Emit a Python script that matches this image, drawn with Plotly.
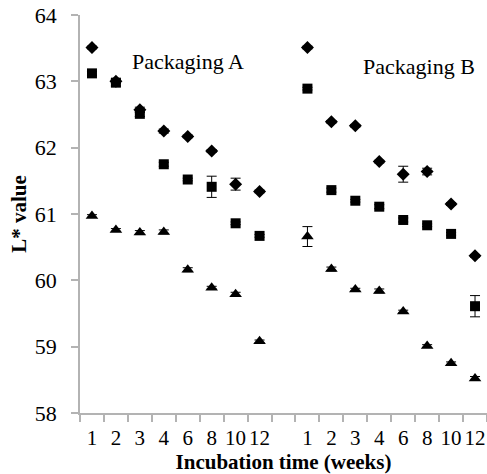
import plotly.graph_objects as go

weeks = [1, 2, 3, 4, 6, 8, 10, 12]
groups = ["Packaging A", "Packaging B"]

# Series values (L* value) for packaging A and B
diamond_A = [63.51, 63.00, 62.57, 62.25, 62.17, 61.95, 61.45, 61.34]
diamond_A_err = [0.02, 0.03, 0.04, 0.03, 0.02, 0.02, 0.09, 0.02]
square_A = [63.12, 62.98, 62.51, 61.75, 61.52, 61.41, 60.86, 60.67]
square_A_err = [0.03, 0.05, 0.04, 0.03, 0.02, 0.16, 0.02, 0.02]
triangle_A = [60.97, 60.76, 60.72, 60.73, 60.16, 59.89, 59.79, 59.08]
triangle_A_err = [0.02, 0.02, 0.03, 0.03, 0.03, 0.02, 0.03, 0.02]

diamond_B = [63.51, 62.39, 62.33, 61.79, 61.60, 61.64, 61.15, 60.37]
diamond_B_err = [0.02, 0.02, 0.02, 0.02, 0.12, 0.05, 0.02, 0.02]
square_B = [62.89, 61.36, 61.20, 61.11, 60.91, 60.83, 60.70, 59.61]
square_B_err = [0.02, 0.03, 0.02, 0.03, 0.03, 0.02, 0.02, 0.16]
triangle_B = [60.66, 60.17, 59.86, 59.84, 59.53, 59.01, 58.75, 58.52]
triangle_B_err = [0.15, 0.03, 0.02, 0.03, 0.02, 0.02, 0.02, 0.03]

# positions: group A categories, one blank category, group B categories
pos_A = list(range(len(weeks)))
pos_B = [p + len(weeks) + 1 for p in pos_A]
n_cat = 2 * len(weeks) + 1

FONT = "Times New Roman, Liberation Serif, DejaVu Serif, serif"
fig = go.Figure()

def add(xs, ys, errs, symbol, size):
    fig.add_trace(go.Scatter(
        x=xs, y=ys, mode="markers",
        marker=dict(symbol=symbol, size=size, color="black"),
        error_y=dict(type="data", array=errs, visible=True, color="black",
                     thickness=1, width=5),
        showlegend=False, cliponaxis=False))

add(pos_A, triangle_A, triangle_A_err, "triangle-up", 11)
add(pos_A, square_A, square_A_err, "square", 10)
add(pos_A, diamond_A, diamond_A_err, "diamond", 10)
add(pos_B, triangle_B, triangle_B_err, "triangle-up", 11)
add(pos_B, square_B, square_B_err, "square", 10)
add(pos_B, diamond_B, diamond_B_err, "diamond", 10)

fig.add_annotation(x=4.03, y=63.3, text=groups[0], showarrow=False,
                   font=dict(family=FONT, size=22, color="black"))
fig.add_annotation(x=13.65, y=63.23, text=groups[1], showarrow=False,
                   font=dict(family=FONT, size=22, color="black"))

axis_col = "#b3b3b3"
fig.update_layout(
    width=487, height=474,
    margin=dict(l=80, r=0, t=15, b=61),
    paper_bgcolor="white", plot_bgcolor="white",
    font=dict(family=FONT, color="black"),
    xaxis=dict(
        range=[-0.5, n_cat - 0.5],
        tickmode="array",
        tickvals=pos_A + pos_B,
        ticktext=[str(w) for w in weeks] * 2,
        ticks="", showgrid=False, zeroline=False,
        showline=True, linecolor=axis_col, linewidth=1.5,
        tickfont=dict(family=FONT, size=21, color="black"),
        ticklabelstandoff=5,
        minor=dict(tickmode="linear", tick0=-0.5, dtick=1, ticks="outside",
                   ticklen=7, tickcolor=axis_col, tickwidth=1.5, showgrid=False),
        title=dict(text="<b>Incubation time (weeks)</b>", standoff=0,
                   font=dict(family=FONT, size=21, color="black")),
    ),
    yaxis=dict(
        range=[58, 64], dtick=1,
        ticks="outside", ticklen=7, tickcolor=axis_col, tickwidth=1.5,
        showgrid=False, zeroline=False,
        showline=True, linecolor=axis_col, linewidth=1.5,
        tickfont=dict(family=FONT, size=22, color="black"),
        ticklabelstandoff=10,
        title=dict(text="<b>L* value</b>", standoff=2,
                   font=dict(family=FONT, size=21, color="black")),
    ),
)

fig.write_html("out.html")
